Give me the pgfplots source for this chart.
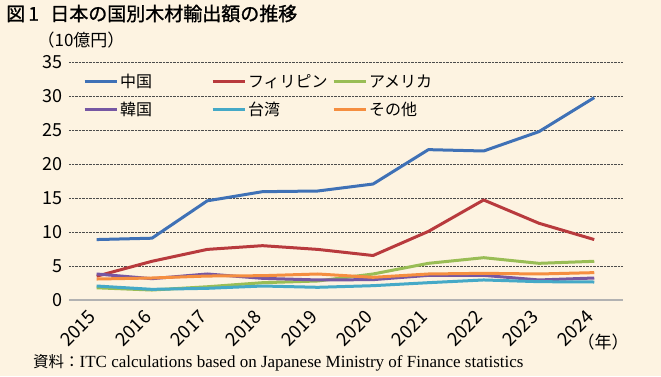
\documentclass[border=0pt]{standalone}
\usepackage{pgfplots}
\pgfplotsset{compat=1.18}
\usepackage{fontspec}
\setmainfont{Noto Sans CJK JP}
\newfontfamily\titlefont[FakeBold=1.2]{Noto Sans CJK JP}
\newfontfamily\srcfont{Liberation Serif}
\definecolor{bgc}{HTML}{FDF3E1}
\definecolor{cblue}{HTML}{3F71B6}
\definecolor{cred}{HTML}{B83A3D}
\definecolor{cgreen}{HTML}{99BD55}
\definecolor{cpurple}{HTML}{7657A3}
\definecolor{cteal}{HTML}{45A9C7}
\definecolor{corange}{HTML}{F58E40}
\begin{document}
\begin{tikzpicture}[x=1pt,y=1pt]
\fill[bgc] (0,0) rectangle (661,376);
\useasboundingbox (0,0) rectangle (661,376);
\node[anchor=west, font=\titlefont\fontsize{19}{19}\selectfont, inner sep=0] at (6,362.5) {図\,1\hspace{0.6em}日本の国別木材輸出額の推移};
\node[font=\fontsize{17}{17}\selectfont, inner sep=0] at (81,336) {（10億円）};
\node[font=\fontsize{17}{17}\selectfont, inner sep=0] at (603,34) {（年）};
\node[anchor=west, inner sep=0, font=\fontsize{15.5}{15.5}\selectfont] at (33,13) {資料：{\srcfont\fontsize{17}{17}\selectfont ITC calculations based on Japanese Ministry of Finance statistics}};
\begin{axis}[
  at={(69pt,76pt)}, anchor=south west,
  scale only axis, width=554pt, height=237.7pt,
  xmin=2014.5, xmax=2024.52, ymin=0, ymax=35,
  axis line style={draw=none},
  axis x line*=bottom,
  xtick={2015,...,2024}, ytick={0,5,...,35},
  major tick length=0pt,
  /pgf/number format/assume math mode=true,
  xticklabel={\pgfmathprintnumber[1000 sep={}]{\tick}},
  yticklabel style={font=\fontsize{18}{18}\selectfont, xshift=-3pt},
  xticklabel style={font=\fontsize{18.5}{18.5}\selectfont, xshift=-9pt, yshift=-4pt, rotate=45, anchor=north east},
  ymajorgrids, grid style={densely dotted, line width=1pt, color=black!70},
  legend columns=3,
  legend style={draw=none, fill=none, at={(axis cs:2014.75,33.6)}, anchor=north west,
    font=\fontsize{16}{16}\selectfont, row sep=9pt, inner sep=0pt, column sep=0pt},
  legend cell align=left,
  legend image code/.code={\draw[#1, line width=3pt] (0pt,0pt) -- (32pt,0pt);},
  every axis plot/.append style={line width=3pt, line join=round},
]
\addplot[cblue, mark=none] coordinates {(2015,8.9)(2016,9.1)(2017,14.6)(2018,15.95)(2019,16.05)(2020,17.08)(2021,22.14)(2022,21.94)(2023,24.79)(2024,29.8)};
\addlegendentry{\makebox[89pt][l]{中国}}
\addplot[cred, mark=none] coordinates {(2015,3.5)(2016,5.7)(2017,7.45)(2018,8.0)(2019,7.45)(2020,6.55)(2021,10.1)(2022,14.73)(2023,11.3)(2024,8.9)};
\addlegendentry{\makebox[82pt][l]{フィリピン}}
\addplot[cgreen, mark=none] coordinates {(2015,1.8)(2016,1.47)(2017,1.95)(2018,2.55)(2019,2.8)(2020,3.83)(2021,5.4)(2022,6.23)(2023,5.4)(2024,5.7)};
\addlegendentry{\makebox[80pt][l]{アメリカ}}
\addplot[cpurple, mark=none] coordinates {(2015,3.83)(2016,3.14)(2017,3.83)(2018,3.19)(2019,2.95)(2020,3.0)(2021,3.63)(2022,3.63)(2023,2.95)(2024,3.24)};
\addlegendentry{\makebox[89pt][l]{韓国}}
\addplot[cteal, mark=none] coordinates {(2015,2.06)(2016,1.57)(2017,1.72)(2018,2.06)(2019,1.87)(2020,2.11)(2021,2.55)(2022,2.95)(2023,2.7)(2024,2.65)};
\addlegendentry{\makebox[82pt][l]{台湾}}
\addplot[corange, mark=none] coordinates {(2015,3.09)(2016,3.24)(2017,3.53)(2018,3.58)(2019,3.83)(2020,3.34)(2021,3.83)(2022,3.93)(2023,3.83)(2024,4.03)};
\addlegendentry{\makebox[80pt][l]{その他}}
\draw[color=black!30, line width=2pt] (axis cs:2014.5,0) -- (axis cs:2024.52,0);
\end{axis}
\end{tikzpicture}
\end{document}
